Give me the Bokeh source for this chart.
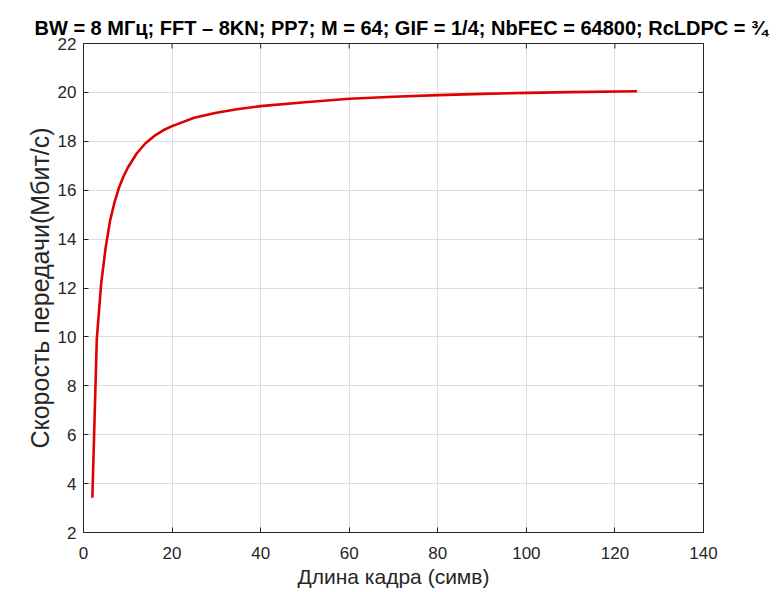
import math
from bokeh.plotting import figure
from bokeh.models import Range1d, FixedTicker, ColumnDataSource
from bokeh.embed import file_html
from bokeh.resources import INLINE

# Data
frame_len = [2, 3, 4, 5, 6, 7, 8, 9, 10, 12, 14, 16, 18, 20, 25, 30, 35, 40,
             50, 60, 70, 80, 90, 100, 110, 125]
rate_mbps = [3.42, 9.9, 12.2, 13.65, 14.75, 15.5, 16.1, 16.55, 16.92, 17.5,
             17.92, 18.22, 18.45, 18.62, 18.96, 19.17, 19.32, 19.44, 19.6,
             19.74, 19.82, 19.89, 19.94, 19.98, 20.01, 20.05]

x_ticks = [0, 20, 40, 60, 80, 100, 120, 140]
y_ticks = [2, 4, 6, 8, 10, 12, 14, 16, 18, 20, 22]
x_min, x_max = 0, 140
y_min, y_max = 2, 22

title_text = "BW = 8 МГц; FFT – 8KN; PP7; M = 64; GIF = 1/4; NbFEC = 64800; RcLDPC = ¾"
x_label = "Длина кадра (симв)"
y_label = "Скорость передачи(Мбит/с)"

FONT = "Liberation Sans"
AX = "#262626"

p = figure(width=771, height=590, output_backend="svg", toolbar_location=None,
           x_range=Range1d(x_min, x_max), y_range=Range1d(y_min, y_max),
           min_border_left=83, min_border_top=43, min_border_right=68,
           min_border_bottom=58)

p.title.text = title_text
p.title.text_font = FONT
p.title.text_font_size = "20px"
p.title.text_font_style = "bold"
p.title.text_color = "#000000"
p.title.align = "left"
p.title.offset = -49
p.title.standoff = 10

p.outline_line_color = AX
p.outline_line_width = 1
p.background_fill_color = "white"
p.border_fill_color = "white"

# grid
p.xgrid.ticker = FixedTicker(ticks=x_ticks)
p.ygrid.ticker = FixedTicker(ticks=y_ticks)
p.grid.grid_line_color = "#dedede"
p.grid.grid_line_width = 1

src = ColumnDataSource(dict(x=frame_len, y=rate_mbps))
p.line("x", "y", source=src, line_color="#e00000", line_width=2.6)

for ax in (p.xaxis[0], p.yaxis[0]):
    ax.major_tick_in = 5
    ax.major_tick_out = 0
    ax.minor_tick_in = 0
    ax.minor_tick_out = 0
    ax.axis_line_color = AX
    ax.major_tick_line_color = AX
    ax.major_label_text_font = FONT
    ax.major_label_text_font_size = "17px"
    ax.major_label_text_color = AX
    ax.axis_label_text_font = FONT
    ax.axis_label_text_color = AX
    ax.axis_label_text_font_style = "normal"

p.xaxis[0].axis_label_text_font_size = "21px"
p.yaxis[0].axis_label_text_font_size = "25px"
p.xaxis[0].ticker = FixedTicker(ticks=x_ticks)
p.yaxis[0].ticker = FixedTicker(ticks=y_ticks)
p.xaxis[0].axis_label = x_label
p.yaxis[0].axis_label = y_label
p.xaxis[0].major_label_standoff = 14
p.xaxis[0].axis_label_standoff = 3
p.yaxis[0].major_label_standoff = 7
p.yaxis[0].axis_label_standoff = 1

# inward tick marks on the top and right sides of the box (clipped to frame)
p.scatter(x=x_ticks, y=[y_max] * len(x_ticks), marker="dash", size=10,
          angle=math.pi / 2, line_color=AX, line_width=1)
p.scatter(x=[x_max] * len(y_ticks), y=y_ticks, marker="dash", size=10,
          angle=0, line_color=AX, line_width=1)

open("out.html", "w").write(file_html(p, INLINE))
